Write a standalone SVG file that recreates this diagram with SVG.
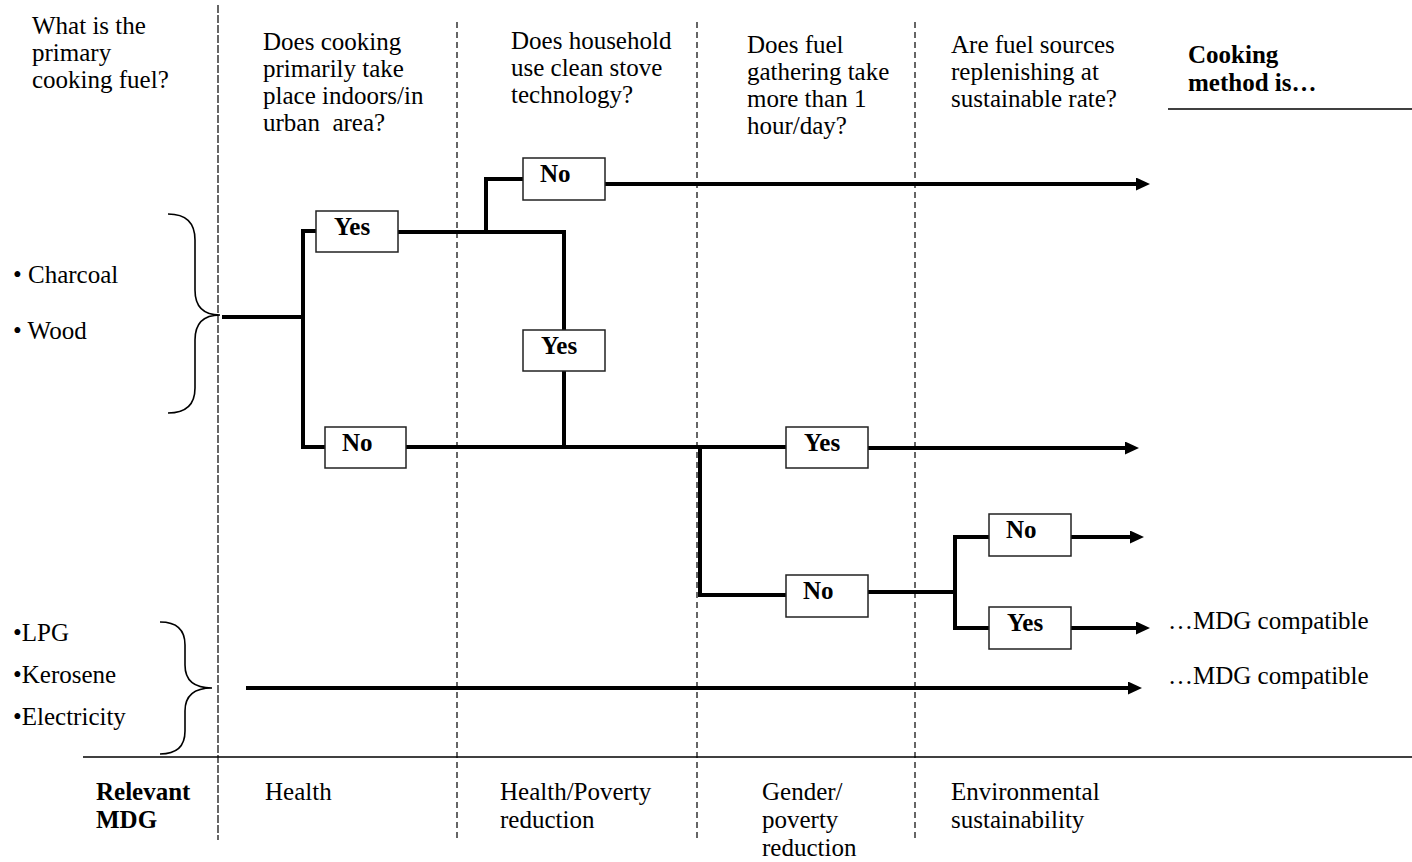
<svg xmlns="http://www.w3.org/2000/svg" width="1412" height="862" viewBox="0 0 1412 862">
<style>
text{font-family:"Liberation Serif","Times New Roman",serif;font-size:25px;fill:#000}
.b{font-weight:bold}
.box{fill:#fff;stroke:#222;stroke-width:1.5}
.c{fill:none;stroke:#000;stroke-width:4}
.dash{stroke:#000;stroke-width:1.2;stroke-dasharray:6 4}
.dash0{stroke:#000;stroke-width:1.2;stroke-dasharray:8 2}
.rule{stroke:#000;stroke-width:1.6}
.brace{fill:none;stroke:#000;stroke-width:1.6}
</style>
<defs>
<marker id="ah" viewBox="0 0 14 13" markerWidth="14" markerHeight="13" refX="4" refY="6.5" orient="auto" markerUnits="userSpaceOnUse">
<path d="M0,0 L14,6.5 L0,13 z" fill="#000"/>
</marker>
</defs>
<rect width="1412" height="862" fill="#fff"/>

<g id="grid">
<line class="dash0" x1="218" y1="5" x2="218" y2="840"/>
<line class="dash" x1="457" y1="22" x2="457" y2="840"/>
<line class="dash" x1="697" y1="22" x2="697" y2="840"/>
<line class="dash" x1="915" y1="22" x2="915" y2="840"/>
<line class="rule" x1="83" y1="757" x2="1412" y2="757"/>
<line class="rule" x1="1168" y1="109" x2="1412" y2="109"/>
</g>

<g id="headers">
<text x="32" y="34">What is the</text>
<text x="32" y="61">primary</text>
<text x="32" y="88">cooking fuel?</text>
<text x="263" y="50">Does cooking</text>
<text x="263" y="77">primarily take</text>
<text x="263" y="104">place indoors/in</text>
<text x="263" y="131">urban&#160; area?</text>
<text x="511" y="49">Does household</text>
<text x="511" y="76">use clean stove</text>
<text x="511" y="103">technology?</text>
<text x="747" y="53">Does fuel</text>
<text x="747" y="80">gathering take</text>
<text x="747" y="107">more than 1</text>
<text x="747" y="134">hour/day?</text>
<text x="951" y="53">Are fuel sources</text>
<text x="951" y="80">replenishing at</text>
<text x="951" y="107">sustainable rate?</text>
<text class="b" x="1188" y="63">Cooking</text>
<text class="b" x="1188" y="91">method is…</text>
</g>

<g id="fuels-solid">
<text x="13" y="283">• Charcoal</text>
<text x="13" y="339">• Wood</text>
<path class="brace" d="M168,214 Q195,214 195,240 L195,290 Q195,315 220,315 Q195,315 195,340 L195,388 Q195,413 168,413"/>
</g>

<g id="fuels-clean">
<text x="13" y="641">•LPG</text>
<text x="13" y="683">•Kerosene</text>
<text x="13" y="725">•Electricity</text>
<path class="brace" d="M160,622 Q185,622 185,645 L185,665 Q185,688 212,688 Q185,688 185,711 L185,731 Q185,754 160,754"/>
</g>

<g id="connectors">
<path class="c" d="M222,317 H303"/>
<path class="c" d="M316,231 H303 V447 H325"/>
<path class="c" d="M398,232 H564 V330"/>
<path class="c" d="M486,232 V179 H523"/>
<path class="c" d="M605,184 H1140" marker-end="url(#ah)"/>
<path class="c" d="M564,371 V447"/>
<path class="c" d="M406,447 H786"/>
<path class="c" d="M868,448 H1129" marker-end="url(#ah)"/>
<path class="c" d="M700,447 V595 H786"/>
<path class="c" d="M868,592 H955"/>
<path class="c" d="M989,537 H955 V628 H989"/>
<path class="c" d="M1071,537 H1134" marker-end="url(#ah)"/>
<path class="c" d="M1071,628 H1140" marker-end="url(#ah)"/>
<path class="c" d="M246,688 H1132" marker-end="url(#ah)"/>
</g>

<g id="n-yes1"><rect class="box" x="316" y="211" width="82" height="41"/><text class="b" x="334" y="235">Yes</text></g>
<g id="n-no-top"><rect class="box" x="523" y="158" width="82" height="42"/><text class="b" x="540" y="182">No</text></g>
<g id="n-yes-mid"><rect class="box" x="523" y="330" width="82" height="41"/><text class="b" x="541" y="354">Yes</text></g>
<g id="n-no-bot"><rect class="box" x="325" y="427" width="81" height="41"/><text class="b" x="342" y="451">No</text></g>
<g id="n-yes-r"><rect class="box" x="786" y="427" width="82" height="41"/><text class="b" x="804" y="451">Yes</text></g>
<g id="n-no-r"><rect class="box" x="786" y="575" width="82" height="42"/><text class="b" x="803" y="599">No</text></g>
<g id="n-no-far"><rect class="box" x="989" y="514" width="82" height="42"/><text class="b" x="1006" y="538">No</text></g>
<g id="n-yes-far"><rect class="box" x="989" y="607" width="82" height="42"/><text class="b" x="1007" y="631">Yes</text></g>

<g id="outcomes">
<text x="1168" y="629">…MDG compatible</text>
<text x="1168" y="684">…MDG compatible</text>
</g>

<g id="mdg">
<text class="b" x="96" y="800">Relevant</text>
<text class="b" x="96" y="828">MDG</text>
<text x="265" y="800">Health</text>
<text x="500" y="800">Health/Poverty</text>
<text x="500" y="828">reduction</text>
<text x="762" y="800">Gender/</text>
<text x="762" y="828">poverty</text>
<text x="762" y="856">reduction</text>
<text x="951" y="800">Environmental</text>
<text x="951" y="828">sustainability</text>
</g>
</svg>
